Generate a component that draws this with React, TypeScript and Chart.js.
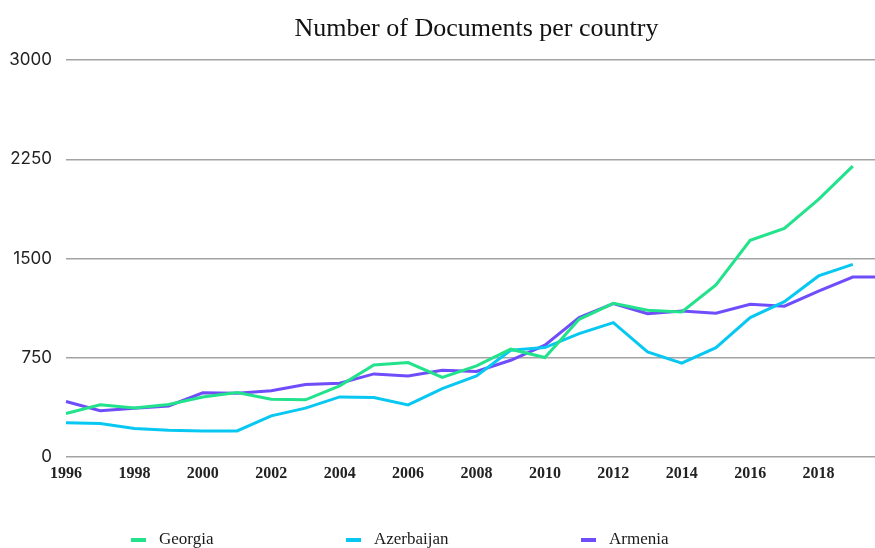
import React, { useEffect, useRef } from 'react';
import { Chart, registerables } from 'chart.js';

Chart.register(...registerables);

const YEARS = [
  '1996', '1997', '1998', '1999', '2000', '2001', '2002', '2003', '2004', '2005',
  '2006', '2007', '2008', '2009', '2010', '2011', '2012', '2013', '2014', '2015',
  '2016', '2017', '2018', '2019', '2020',
];
const TICK_YEARS = ['1996', '1998', '2000', '2002', '2004', '2006', '2008', '2010', '2012', '2014', '2016', '2018'];
const Y_MIN = 0;
const Y_MAX = 3000;
const Y_STEP = 750;

const GEORGIA = [327, 393, 370, 395, 453, 486, 436, 431, 537, 695, 713, 600, 688, 814, 751, 1040, 1161, 1108, 1096, 1300, 1637, 1728, 1947, 2199, null];
const AZERBAIJAN = [257, 252, 214, 201, 196, 196, 310, 368, 453, 448, 393, 516, 612, 806, 826, 932, 1015, 793, 708, 826, 1053, 1174, 1368, 1456, null];
const ARMENIA = [418, 348, 368, 385, 484, 481, 499, 547, 557, 627, 612, 655, 645, 730, 844, 1053, 1159, 1083, 1103, 1086, 1154, 1139, 1254, 1360, 1360];

const SERIES_NAMES = ['Georgia', 'Azerbaijan', 'Armenia'];
const SERIES_COLORS = ['#22e28b', '#08c8f2', '#6f4dfb'];
const TITLE = 'Number of Documents per country';

const LEGEND_X = [131, 346, 581];
const LEGEND_Y = 540;

const spacedLegend = {
  id: 'spacedLegend',
  afterDraw(chart: any) {
    const ctx = chart.ctx;
    ctx.save();
    chart.data.datasets.forEach((ds: any, i: number) => {
      const x = LEGEND_X[i];
      ctx.fillStyle = ds.borderColor;
      ctx.fillRect(x, LEGEND_Y - 2, 15, 4);
      ctx.fillStyle = '#1a1a1a';
      ctx.font = '17px "Liberation Serif", serif';
      ctx.textBaseline = 'middle';
      ctx.textAlign = 'left';
      ctx.fillText(ds.label, x + 28, LEGEND_Y);
    });
    ctx.restore();
  },
};

export default function App() {
  const ref = useRef<HTMLCanvasElement | null>(null);

  useEffect(() => {
    if (!ref.current) return;
    const chart = new Chart(ref.current, {
      type: 'line',
      data: {
        labels: YEARS,
        datasets: [GEORGIA, AZERBAIJAN, ARMENIA].map((d, i) => ({
          label: SERIES_NAMES[i],
          data: d,
          borderColor: SERIES_COLORS[i],
          backgroundColor: SERIES_COLORS[i],
          borderWidth: 3,
          pointRadius: 0,
          pointHoverRadius: 0,
          tension: 0,
          fill: false,
          spanGaps: false,
        })),
      },
      options: {
        animation: false,
        responsive: false,
        maintainAspectRatio: false,
        layout: { padding: { left: 0, right: 13, top: 0, bottom: 58 } },
        plugins: {
          legend: { display: false },
          tooltip: { enabled: false },
          title: {
            display: true,
            fullSize: false,
            text: TITLE,
            color: '#111',
            font: { family: '"Liberation Serif", serif', size: 26, weight: 'normal' },
            padding: { top: 14, bottom: 15 },
          },
        },
        scales: {
          x: {
            offset: false,
            grid: { display: false, drawTicks: false },
            border: { display: false },
            ticks: {
              autoSkip: false,
              maxRotation: 0,
              padding: 7,
              color: '#222',
              font: { family: '"Liberation Serif", serif', size: 16, weight: 'bold' },
              callback: function (this: any, value: any, index: number) {
                const lab = YEARS[index];
                return TICK_YEARS.includes(lab) ? lab : '';
              },
            },
          },
          y: {
            min: Y_MIN,
            max: Y_MAX,
            afterFit: (scale: any) => {
              scale.width = 66;
            },
            grid: { color: '#a3a3a3', lineWidth: 1.5, drawTicks: false },
            border: { display: false },
            ticks: {
              stepSize: Y_STEP,
              padding: 14,
              color: '#222',
              font: { family: 'Inter, sans-serif', size: 17 },
              callback: (v: any) => String(v),
            },
          },
        },
      },
      plugins: [spacedLegend],
    });
    return () => chart.destroy();
  }, []);

  return (
    <div style={{ position: 'fixed', left: 0, top: 0, width: 875, height: 548, overflow: 'hidden', background: '#fff' }}>
      <canvas ref={ref} width={900} height={548} style={{ position: 'absolute', left: 0, top: 0, width: 900, height: 548 }} />
    </div>
  );
}
